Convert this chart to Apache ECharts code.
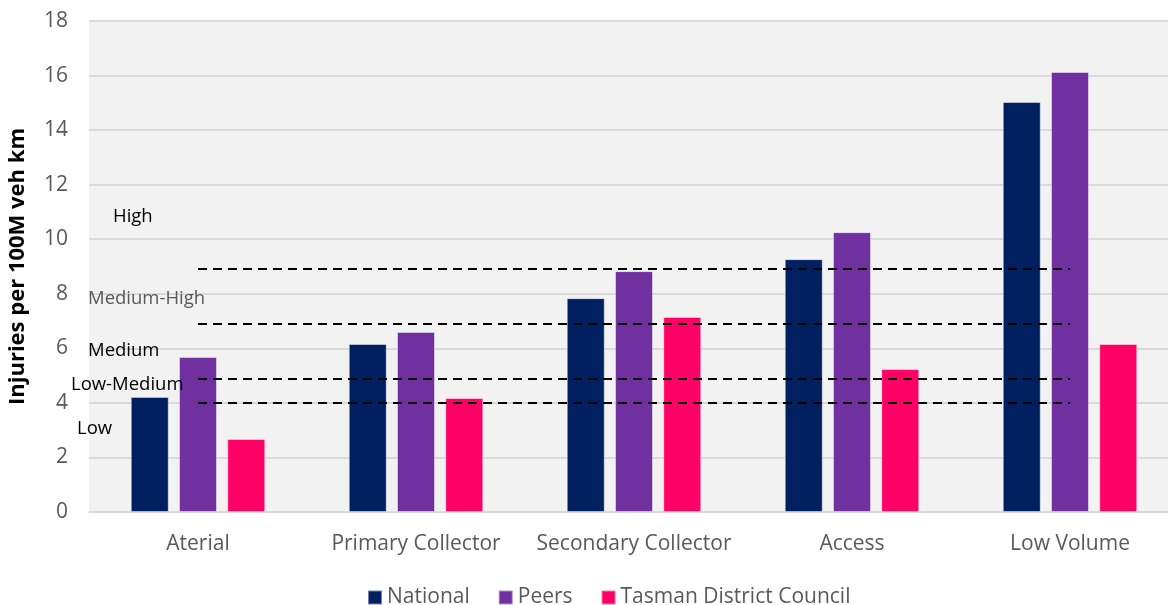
<!DOCTYPE html>
<html>
<head>
<meta charset="utf-8">
<script src="https://cdn.jsdelivr.net/npm/echarts@6/dist/echarts.min.js"></script>
<style>
  html, body { margin: 0; padding: 0; background: #fff; }
  #chart { width: 1168px; height: 605px; }
</style>
</head>
<body>
<div id="chart"></div>
<script>
const categories = ["Aterial", "Primary Collector", "Secondary Collector", "Access", "Low Volume"];
const national = [4.22, 6.16, 7.84, 9.27, 15.03];
const peers = [5.68, 6.6, 8.83, 10.26, 16.13];
const tasman = [2.68, 4.18, 7.15, 5.24, 6.16];
// risk band thresholds (dashed lines)
const thresholds = [8.9, 6.9, 4.9, 4.0];
const bandLabels = ["High", "Medium-High", "Medium", "Low-Medium", "Low"];

const font = "Open Sans";
const chart = echarts.init(document.getElementById("chart"));

const dashed = thresholds.map((v) => [
    { coord: [categories[0], v] },
    { coord: [categories[categories.length - 1], v] },
]);

// band label placement in px
const bandPos = [
    { x: 113, y: 219, color: "#000" },
    { x: 88, y: 301, color: "#595959" },
    { x: 88, y: 353, color: "#000" },
    { x: 71, y: 387, color: "#000" },
    { x: 77, y: 431, color: "#000" },
];

const barStyle = (c) => ({ color: c, borderColor: "rgba(255,255,255,0.45)", borderWidth: 1 });

const option = {
    animation: false,
    textStyle: { fontFamily: font },
    grid: {
        left: 89,
        width: 1090, // plot runs past the right edge, as in the source image
        top: 21,
        bottom: 93,
        outerBoundsMode: "none",
        show: true,
        backgroundColor: "#f2f2f2",
        borderWidth: 0,
    },
    legend: {
        bottom: -8,
        left: 362,
        itemWidth: 14,
        itemHeight: 14,
        itemGap: 28,
        icon: "rect",
        textStyle: { fontSize: 21, color: "#595959", fontFamily: font },
        data: ["National", "Peers", "Tasman District Council"],
    },
    xAxis: {
        type: "category",
        data: categories,
        axisLine: { show: true, lineStyle: { color: "#d9d9d9" } },
        axisTick: { show: false },
        axisLabel: { color: "#595959", fontSize: 21, margin: 22, interval: 0 },
    },
    yAxis: {
        type: "value",
        min: 0,
        max: 18,
        interval: 2,
        name: "Injuries per 100M veh km",
        nameLocation: "middle",
        nameGap: 60,
        nameTextStyle: { fontSize: 22, fontWeight: "bold", color: "#000" },
        axisLabel: { color: "#595959", fontSize: 21, margin: 21 },
        splitLine: { lineStyle: { color: "#d9d9d9", width: 2 } },
    },
    series: [
        { name: "National", type: "bar", data: national, barWidth: 38, barGap: "27%", itemStyle: barStyle("#002060") },
        { name: "Peers", type: "bar", data: peers, barWidth: 38, barGap: "27%", itemStyle: barStyle("#7030a0") },
        { name: "Tasman District Council", type: "bar", data: tasman, barWidth: 38, barGap: "27%", itemStyle: barStyle("#ff0066") },
        {
            name: "thresholds",
            type: "line",
            data: [],
            silent: true,
            markLine: {
                silent: true,
                symbol: "none",
                label: { show: false },
                lineStyle: { color: "#000", type: [9, 6], width: 2 },
                data: dashed,
            },
        },
    ],
    graphic: bandLabels.map((t, i) => ({
        type: "text",
        left: bandPos[i].x,
        top: bandPos[i].y - 12,
        z: 100,
        style: {
            text: t,
            fill: bandPos[i].color,
            font: "18.5px " + font,
        },
    })),
};

chart.setOption(option);
</script>
</body>
</html>
